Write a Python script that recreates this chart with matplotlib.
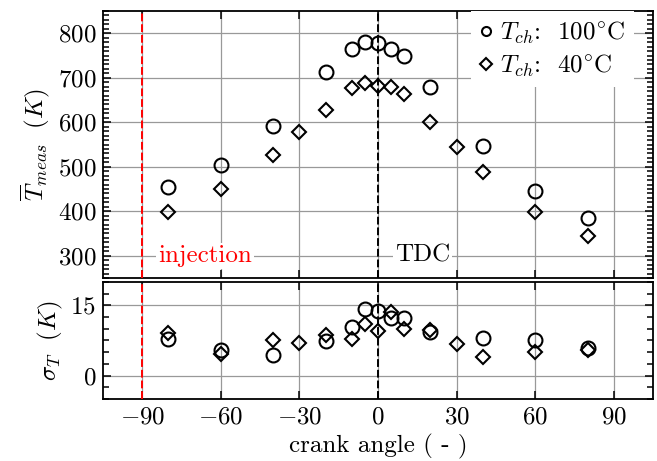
import numpy as np
import matplotlib.pyplot as plt
from matplotlib.ticker import MultipleLocator

# Дані: кут колінвалу та виміряні температури
angle_100 = np.array([-80, -60, -40, -20, -10, -5, 0, 5, 10, 20, 40, 60, 80])
T_100 = np.array([455, 505, 592, 713, 764, 780, 779, 765, 748, 680, 547, 445, 384])
sigma_100 = np.array([7.8, 5.4, 4.4, 7.4, 10.4, 14.2, 13.9, 12.2, 12.3, 9.3, 8.1, 7.7, 5.8])

angle_40 = np.array([-80, -60, -40, -30, -20, -10, -5, 0, 5, 10, 20, 30, 40, 60, 80])
T_40 = np.array([398, 449, 527, 578, 628, 676, 689, 682, 680, 663, 601, 544, 488, 398, 345])
sigma_40 = np.array([9.0, 4.7, 7.7, 6.9, 8.6, 7.8, 11.1, 9.5, 13.6, 10.0, 9.8, 6.7, 3.9, 5.1, 5.4])

injection_angle = -90
tdc_angle = 0

plt.rcParams['font.family'] = 'serif'
plt.rcParams['font.serif'] = ['cmr10']
plt.rcParams['mathtext.fontset'] = 'cm'
plt.rcParams['axes.formatter.use_mathtext'] = True
plt.rcParams['font.size'] = 18

fig = plt.figure(figsize=(6.57, 4.61), dpi=100)
ax1 = fig.add_axes([0.1568, 0.3970, 0.8371, 0.5791])
ax2 = fig.add_axes([0.1568, 0.1345, 0.8371, 0.2538], sharex=ax1)

mk = dict(linestyle='none', markerfacecolor='none', markeredgecolor='black',
          markeredgewidth=1.5, zorder=5)

ax1.plot(angle_100, T_100, marker='o', markersize=10, label=r'$T_{ch}$:  100$^{\circ}$C', **mk)
ax1.plot(angle_40, T_40, marker='D', markersize=7, label=r'$T_{ch}$:  40$^{\circ}$C', **mk)
ax2.plot(angle_100, sigma_100, marker='o', markersize=10, **mk)
ax2.plot(angle_40, sigma_40, marker='D', markersize=7, **mk)

for ax in (ax1, ax2):
    ax.axvline(injection_angle, color='red', linestyle='--', linewidth=1.4, dashes=(4, 1.5), zorder=4)
    ax.axvline(tdc_angle, color='black', linestyle='--', linewidth=1.4, dashes=(4, 1.5), zorder=4)
    ax.grid(True, which='major', color='0.6', linewidth=0.9)
    ax.set_axisbelow(True)
    ax.tick_params(which='both', direction='in', top=True, right=True, width=1.1)
    ax.tick_params(which='major', length=6, pad=5)
    ax.tick_params(which='minor', length=4.5)
    ax.xaxis.set_minor_locator(plt.NullLocator())
    for s in ax.spines.values():
        s.set_linewidth(1.3)

ax1.set_xlim(-105, 105)
ax1.set_xticks([-90, -60, -30, 0, 30, 60, 90])
ax1.set_ylim(250, 850)
ax1.set_yticks([300, 400, 500, 600, 700, 800])
ax1.yaxis.set_minor_locator(MultipleLocator(10))
ax1.tick_params(labelbottom=False)
ax1.set_ylabel(r'$\overline{T}_{meas}\ \ (K)$')

ax2.set_ylim(-5, 20)
ax2.set_yticks([0, 15])
ax2.yaxis.set_minor_locator(MultipleLocator(2.5))
ax2.set_ylabel(r'$\sigma_T\ \ (K)$')
ax2.set_xlabel('crank angle ( - )')

box = dict(facecolor='white', edgecolor='none', pad=1.5)
ax1.text(-66, 300, 'injection', color='red', ha='center', va='center', bbox=box, zorder=6)
ax1.text(17, 300, 'TDC', color='black', ha='center', va='center', bbox=box, zorder=6)

leg = ax1.legend(loc='upper right', bbox_to_anchor=(0.965, 1.0), borderaxespad=0,
                 frameon=True, fancybox=False, handlelength=0.5, handletextpad=0.3,
                 labelspacing=0.25, borderpad=0.35)
leg.get_frame().set_edgecolor('none')
leg.get_frame().set_alpha(1)
for h in leg.legend_handles:
    h.set_markersize(6.5)

fig.align_ylabels([ax1, ax2])
fig.savefig('out.png', dpi=100)
